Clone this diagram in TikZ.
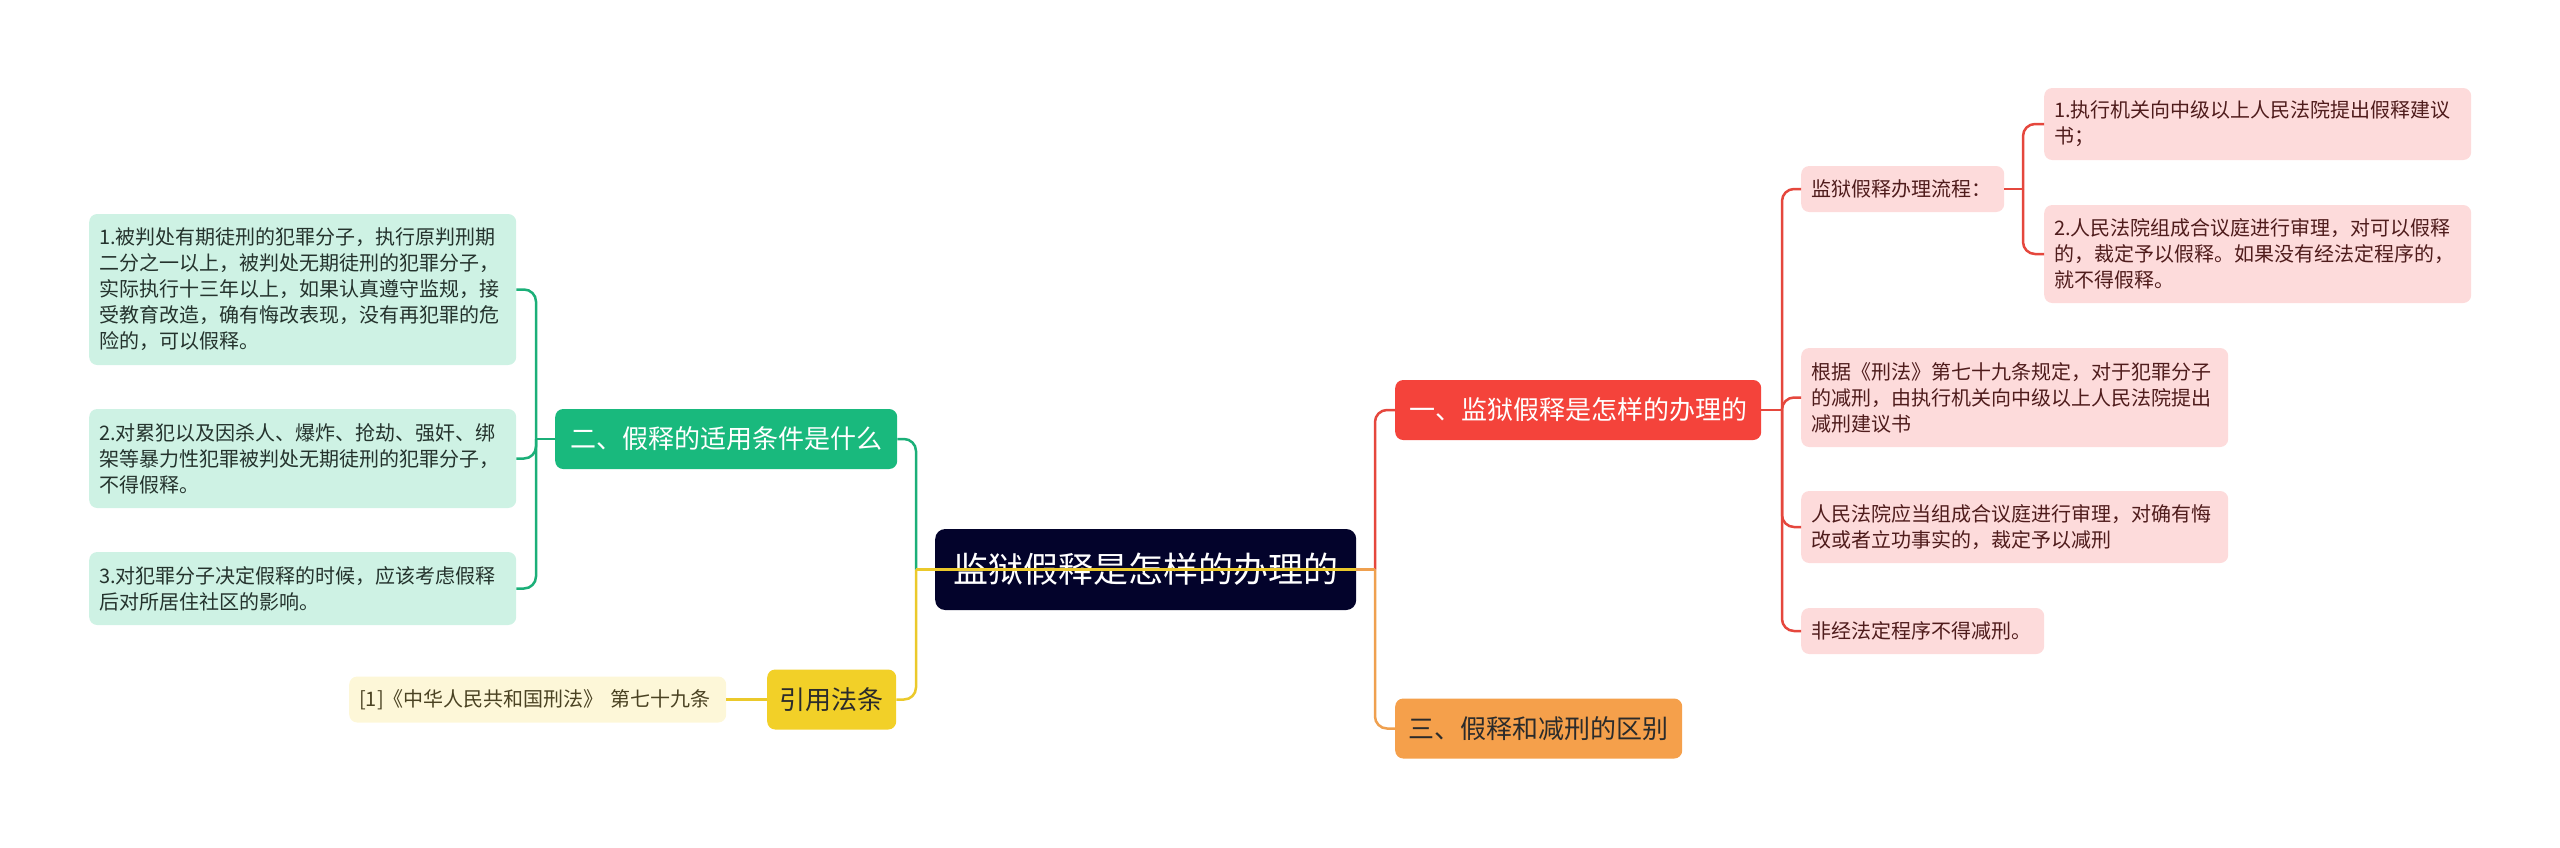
\documentclass[tikz,border=0pt]{standalone}
\usepackage{fontspec}
\setmainfont{Noto Sans CJK SC}
\usepackage{xcolor}
\usepackage{tikz}

\definecolor{rootbg}{HTML}{03032B}
\definecolor{redmain}{HTML}{F4433B}
\definecolor{redline}{HTML}{E5473D}
\definecolor{redsoft}{HTML}{FDDBDB}
\definecolor{redtext}{HTML}{4F1C1C}
\definecolor{greenmain}{HTML}{19B97D}
\definecolor{greenline}{HTML}{1BAF78}
\definecolor{greensoft}{HTML}{CEF2E4}
\definecolor{greentext}{HTML}{24332D}
\definecolor{yellowmain}{HTML}{F2D028}
\definecolor{yellowline}{HTML}{EBC92B}
\definecolor{yellowsoft}{HTML}{FDF7D8}
\definecolor{yellowtext}{HTML}{4A4222}
\definecolor{orangemain}{HTML}{F5A04B}
\definecolor{orangeline}{HTML}{EFA04F}
\definecolor{darktext}{HTML}{2B2B2B}

\begin{document}
\begin{tikzpicture}[x=1pt,y=-1pt,
  box/.style={rounded corners=8pt, anchor=west, inner xsep=10pt, inner ysep=0pt, align=left, font=\fontsize{20}{26}\selectfont},
  branch/.style={rounded corners=8pt, anchor=west, minimum height=60pt, inner sep=0pt, font=\fontsize{26}{30}\selectfont},
  link/.style={line width=2.5pt}]
\useasboundingbox (0,0) rectangle (2560,847);

% centre
\node[fill=rootbg, text=white, rounded corners=10pt, anchor=west, minimum width=421pt, minimum height=81pt, inner sep=0pt, font=\fontsize{35}{40}\selectfont] (root) at (935,569.5) {监狱假释是怎样的办理的};

\node[branch, fill=redmain, text=white, minimum width=366pt] (one) at (1395,410) {一、监狱假释是怎样的办理的};
\node[branch, fill=orangemain, text=darktext, minimum width=287pt] (three) at (1395,728.5) {三、假释和减刑的区别};
\node[branch, fill=greenmain, text=white, minimum width=342pt] (two) at (555,439) {二、假释的适用条件是什么};
\node[branch, fill=yellowmain, text=darktext, minimum width=129pt] (cite) at (767,699.5) {引用法条};

% right side
\node[box, fill=redsoft, text=redtext, text width=183pt, minimum height=46pt] (flow) at (1801,189) {监狱假释办理流程：};
\node[box, fill=redsoft, text=redtext, text width=407pt, minimum height=72pt] (flowA) at (2044,124) {1.执行机关向中级以上人民法院提出假释建议\\书；};
\node[box, fill=redsoft, text=redtext, text width=407pt, minimum height=98pt] (flowB) at (2044,254) {2.人民法院组成合议庭进行审理，对可以假释\\的，裁定予以假释。如果没有经法定程序的，\\就不得假释。};
\node[box, fill=redsoft, text=redtext, text width=407pt, minimum height=99pt] (oneB) at (1801,397.5) {根据《刑法》第七十九条规定，对于犯罪分子\\的减刑，由执行机关向中级以上人民法院提出\\减刑建议书};
\node[box, fill=redsoft, text=redtext, text width=407pt, minimum height=72pt] (oneC) at (1801,527) {人民法院应当组成合议庭进行审理，对确有悔\\改或者立功事实的，裁定予以减刑};
\node[box, fill=redsoft, text=redtext, text width=223pt, minimum height=46pt] (oneD) at (1801,631) {非经法定程序不得减刑。};

% left side
\node[box, fill=greensoft, text=greentext, text width=407pt, minimum height=151pt] (twoA) at (89,289.5) {1.被判处有期徒刑的犯罪分子，执行原判刑期\\二分之一以上，被判处无期徒刑的犯罪分子，\\实际执行十三年以上，如果认真遵守监规，接\\受教育改造，确有悔改表现，没有再犯罪的危\\险的，可以假释。};
\node[box, fill=greensoft, text=greentext, text width=407pt, minimum height=99pt] (twoB) at (89,458.5) {2.对累犯以及因杀人、爆炸、抢劫、强奸、绑\\架等暴力性犯罪被判处无期徒刑的犯罪分子，\\不得假释。};
\node[box, fill=greensoft, text=greentext, text width=407pt, minimum height=73pt] (twoC) at (89,588.5) {3.对犯罪分子决定假释的时候，应该考虑假释\\后对所居住社区的影响。};
\node[box, fill=yellowsoft, text=yellowtext, text width=357pt, minimum height=46pt] (citeA) at (349,699.5) {[1]《中华人民共和国刑法》 第七十九条};

\coordinate (rj) at (1375,569.5);
\coordinate (lj) at (916,569.5);
\coordinate (oj) at (1782,410);
\coordinate (fj) at (2023,189);
\coordinate (tj) at (536,439);

% connectors
\draw[link, redline] (root.east) -- (rj);
\draw[link, redline, rounded corners=12pt] (rj) |- (one.west);
\draw[link, orangeline] (root.east) -- (rj);
\draw[link, orangeline, rounded corners=12pt] (rj) |- (three.west);
\draw[link, greenline] (root.east) -- (lj);
\draw[link, greenline, rounded corners=12pt] (lj) |- (two.east);
\draw[link, yellowline] (root.east) -- (lj);
\draw[link, yellowline, rounded corners=12pt] (lj) |- (cite.east);

\draw[link, redline] (one.east) -- (oj);
\draw[link, redline, rounded corners=12pt] (oj) |- (flow.west);
\draw[link, redline, rounded corners=12pt] (oj) |- (oneB.west);
\draw[link, redline, rounded corners=12pt] (oj) |- (oneC.west);
\draw[link, redline, rounded corners=12pt] (oj) |- (oneD.west);
\draw[link, redline] (flow.east) -- (fj);
\draw[link, redline, rounded corners=12pt] (fj) |- (flowA.west);
\draw[link, redline, rounded corners=12pt] (fj) |- (flowB.west);

\draw[link, greenline] (two.west) -- (tj);
\draw[link, greenline, rounded corners=12pt] (tj) |- (twoA.east);
\draw[link, greenline, rounded corners=12pt] (tj) |- (twoB.east);
\draw[link, greenline, rounded corners=12pt] (tj) |- (twoC.east);
\draw[link, yellowline] (cite.west) -- (citeA.east);

\end{tikzpicture}
\end{document}
